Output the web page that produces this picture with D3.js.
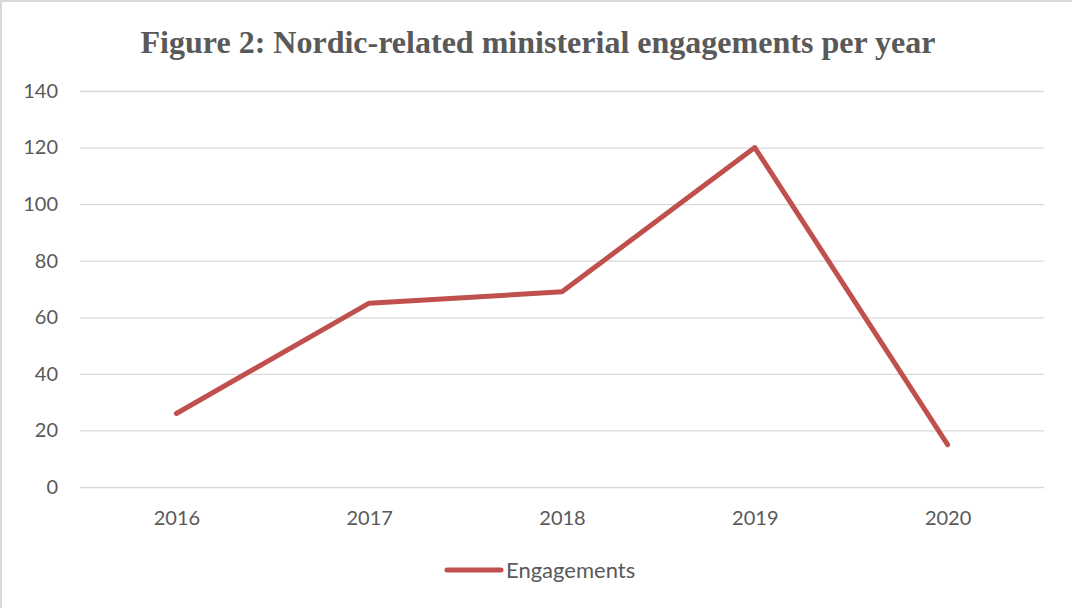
<!DOCTYPE html>
<html><head><meta charset="utf-8">
<script src="https://cdn.jsdelivr.net/npm/d3@7"></script>
<style>html,body{margin:0;padding:0;background:#fff;}svg{display:block;}</style>
</head><body>
<svg id="chart" width="1072" height="608"></svg>
<script>
const years = ["2016","2017","2018","2019","2020"];
const engagements = [26, 65, 69, 120, 15];
const yTicks = [0,20,40,60,80,100,120,140];
const title = "Figure 2: Nordic-related ministerial engagements per year";
const seriesName = "Engagements";

const svg = d3.select("#chart");
const W = 1072, H = 608;
const m = {left: 80, right: 28, top: 91, bottom: 121};
const color = "#c0504d";
const textColor = "#595959";

svg.append("rect").attr("x",1).attr("y",1).attr("width",W-2+20).attr("height",H-2+20)
  .attr("fill","#fff").attr("stroke","#d9d9d9").attr("stroke-width",2);

const x = d3.scalePoint().domain(years).range([m.left, W-m.right]).padding(0.5);
const y = d3.scaleLinear().domain([0,140]).range([H-m.bottom, m.top]);

svg.append("text").attr("x", 538).attr("y", 53).attr("text-anchor","middle")
  .attr("font-family","'Liberation Serif','Times New Roman',serif").attr("font-weight","bold")
  .attr("font-size",32).attr("fill",textColor)
  .attr("textLength",795).attr("lengthAdjust","spacingAndGlyphs").text(title);

const yAxis = d3.axisLeft(y).tickValues(yTicks).tickSize(-(W-m.left-m.right)).tickPadding(22);
const gy = svg.append("g").attr("transform",`translate(${m.left},0)`).call(yAxis);
gy.select(".domain").remove();
gy.selectAll(".tick line").attr("stroke","#d9d9d9").attr("stroke-width",1.3);
gy.selectAll(".tick text").attr("font-family","Lato, 'Open Sans', sans-serif").attr("font-size",20).attr("fill",textColor);

const xAxis = d3.axisBottom(x).tickSize(0).tickPadding(24);
const gx = svg.append("g").attr("transform",`translate(0,${H-m.bottom})`).call(xAxis);
gx.select(".domain").remove();
gx.selectAll(".tick text").attr("font-family","Lato, 'Open Sans', sans-serif").attr("font-size",20).attr("fill",textColor);

const line = d3.line().x((d,i)=>x(years[i])).y(d=>y(d));
svg.append("path").datum(engagements).attr("d",line).attr("fill","none")
  .attr("stroke",color).attr("stroke-width",5).attr("stroke-linecap","round").attr("stroke-linejoin","round");

const lg = svg.append("g").attr("transform","translate(447,570)");
lg.append("line").attr("x1",0).attr("x2",54).attr("y1",0).attr("y2",0)
  .attr("stroke",color).attr("stroke-width",5).attr("stroke-linecap","round");
lg.append("text").attr("x",59).attr("y",0).attr("dy","0.35em")
  .attr("font-family","Lato, 'Open Sans', sans-serif").attr("font-size",22).attr("fill",textColor).text(seriesName);
</script>
</body></html>
